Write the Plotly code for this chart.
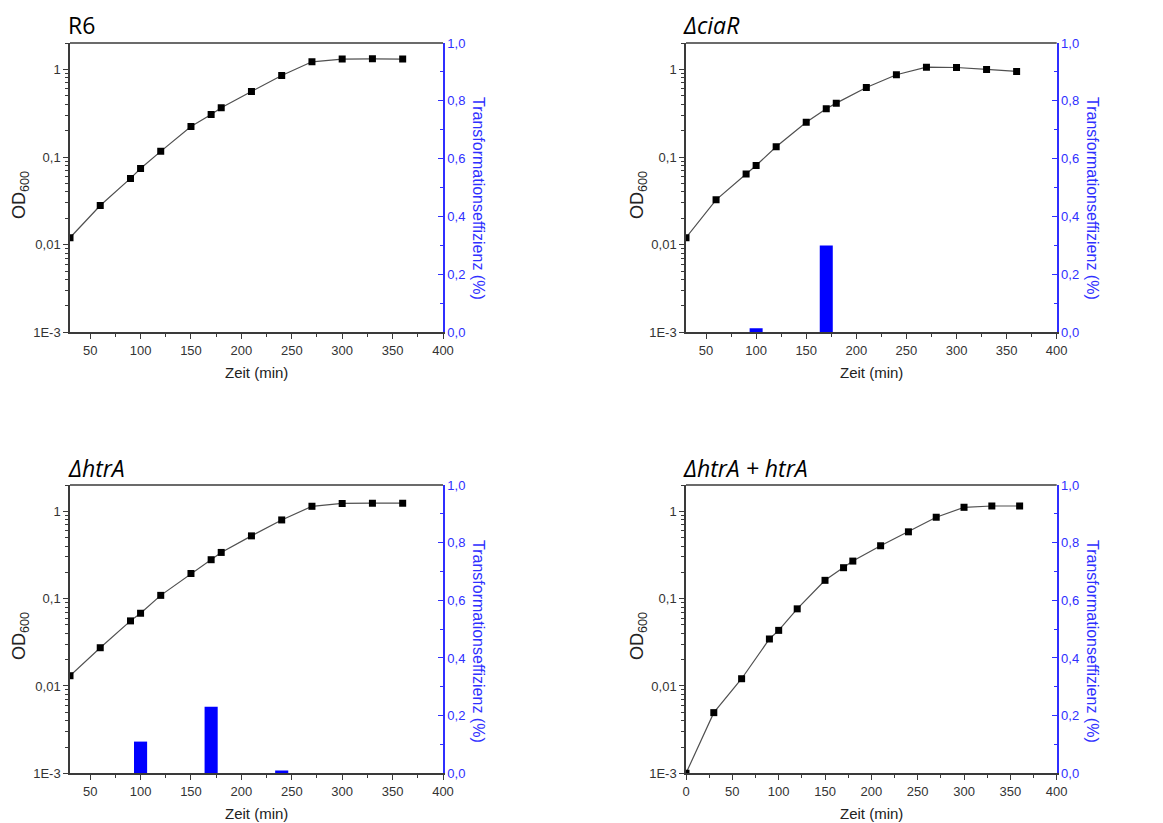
import plotly.graph_objects as go

# ---------------- data ----------------
times = [30, 60, 90, 100, 120, 150, 170, 180, 210, 240, 270, 300, 330, 360]
od_r6 = [0.012, 0.028, 0.057, 0.074, 0.116, 0.223, 0.305, 0.365, 0.56, 0.85, 1.22, 1.31, 1.32, 1.31]
od_ciar = [0.012, 0.0325, 0.064, 0.080, 0.131, 0.249, 0.355, 0.412, 0.622, 0.869, 1.06, 1.05, 1.0, 0.948]
od_htra = [0.0131, 0.0274, 0.0556, 0.068, 0.109, 0.194, 0.279, 0.338, 0.523, 0.796, 1.14, 1.23, 1.24, 1.24]
times_comp = [0, 30, 60, 90, 100, 120, 150, 170, 180, 210, 240, 270, 300, 330, 360]
od_comp = [0.001, 0.00495, 0.0121, 0.0345, 0.0433, 0.0764, 0.162, 0.226, 0.269, 0.403, 0.582, 0.855, 1.11, 1.15, 1.15]

bar_x_ciar = [100, 170]
bar_y_ciar = [0.014, 0.30]
bar_x_htra = [100, 170, 240]
bar_y_htra = [0.11, 0.231, 0.01]

titles = ["R6", "<i>ΔciaR</i>", "<i>ΔhtrA</i>", "<i>ΔhtrA + htrA</i>"]
od_ticks = [0.001, 0.01, 0.1, 1]
od_ticktext = ["1E-3", "0,01", "0,1", "1"]
od_minor = [m * 10 ** e for e in (-3, -2, -1) for m in range(2, 10)] + [2]
eff_ticks = [0, 0.2, 0.4, 0.6, 0.8, 1.0]
eff_ticktext = ["0,0", "0,2", "0,4", "0,6", "0,8", "1,0"]
eff_minor = [0.1, 0.3, 0.5, 0.7, 0.9]
x_label = "Zeit (min)"
od_label = "OD<sub>600</sub>"
eff_label = "Transformationseffizienz (%)"

# ---------------- layout helpers ----------------
W, H = 1163, 823
fx = lambda x: x / W
fy = lambda y: 1 - y / H

AX = "#3a3a3a"
BLUE = "#2f2fff"
TICKFONT = dict(family="Liberation Sans, Arial", size=13, color="#333333")

panels = [
    dict(t=times, od=od_r6, bx=[], by=[], xr=[30, 400], xt=[50, 100, 150, 200, 250, 300, 350, 400],
         box=(70, 443, 43, 332.3), title_xy=(66, 25), od_xy=(20, 195), eff_xy=(479, 198), zeit_y=372),
    dict(t=times, od=od_ciar, bx=bar_x_ciar, by=bar_y_ciar, xr=[30, 400], xt=[50, 100, 150, 200, 250, 300, 350, 400],
         box=(686, 1056.7, 43, 332.3), title_xy=(681, 25), od_xy=(638, 195), eff_xy=(1093, 198), zeit_y=372),
    dict(t=times, od=od_htra, bx=bar_x_htra, by=bar_y_htra, xr=[30, 400], xt=[50, 100, 150, 200, 250, 300, 350, 400],
         box=(70, 443, 485, 773.3), title_xy=(66, 468), od_xy=(20, 636), eff_xy=(479, 641), zeit_y=813),
    dict(t=times_comp, od=od_comp, bx=[], by=[], xr=[0, 400], xt=[0, 50, 100, 150, 200, 250, 300, 350, 400],
         box=(686, 1056.7, 485, 773.3), title_xy=(681, 468), od_xy=(638, 636), eff_xy=(1093, 641), zeit_y=813),
]

fig = go.Figure()
layout = dict(
    template="none",
    width=W, height=H, autosize=False, margin=dict(l=0, r=0, t=0, b=0, pad=0),
    paper_bgcolor="white", plot_bgcolor="rgba(0,0,0,0)", showlegend=False,
    font=dict(family="Liberation Sans, Arial", color="#222222"),
    annotations=[], shapes=[],
)


def sx(n):
    return "" if n == 1 else str(n)


for i, p in enumerate(panels):
    xa = i + 1                       # x axis of the panel
    ya, yb, yc = 3 * i + 1, 3 * i + 2, 3 * i + 3   # log OD / efficiency / log minor ticks
    x0, x1, y0, y1 = p["box"]
    xdom = [fx(x0), fx(x1)]
    ydom = [fy(y1), fy(y0)]
    xminor = [v + 25 for v in range(0, 400, 50) if p["xr"][0] < v + 25 < p["xr"][1]]

    if p["bx"]:
        fig.add_trace(go.Bar(
            x=p["bx"], y=p["by"], width=13, marker=dict(color="#0000ff", line=dict(width=0)),
            xaxis="x" + sx(xa), yaxis="y" + sx(yb),
        ))
    fig.add_trace(go.Scatter(
        x=p["t"], y=p["od"], mode="lines+markers",
        line=dict(color="#505050", width=1.2),
        marker=dict(symbol="square", size=7, color="black"),
        xaxis="x" + sx(xa), yaxis="y" + sx(ya),
    ))
    # invisible helper traces so that the extra axes (minor ticks, right axis) are drawn
    fig.add_trace(go.Scatter(x=[p["xr"][1]], y=[0.5], mode="markers", marker=dict(opacity=0),
                             hoverinfo="skip", xaxis="x" + sx(xa), yaxis="y" + sx(yb)))
    fig.add_trace(go.Scatter(x=[p["xr"][1]], y=[1], mode="markers", marker=dict(opacity=0),
                             hoverinfo="skip", xaxis="x" + sx(xa), yaxis="y" + sx(yc)))

    layout["xaxis" + sx(xa)] = dict(
        domain=xdom, anchor="y" + sx(ya), range=p["xr"], automargin=False,
        showline=True, linecolor=AX, linewidth=1.5, showgrid=False, zeroline=False,
        tickmode="array", tickvals=p["xt"], ticks="outside", ticklen=5, tickwidth=1.3, tickcolor=AX,
        tickfont=TICKFONT,
        minor=dict(tickmode="array", tickvals=xminor, ticks="outside", ticklen=3, tickwidth=1.2, tickcolor=AX, showgrid=False),
    )
    layout["yaxis" + sx(ya)] = dict(
        domain=ydom, anchor="x" + sx(xa), type="log", range=[-3, 0.301], automargin=False,
        showline=True, linecolor=AX, linewidth=1.5, showgrid=False, zeroline=False,
        tickmode="array", tickvals=od_ticks, ticktext=od_ticktext,
        ticks="outside", ticklen=5, tickwidth=1.3, tickcolor=AX, tickfont=TICKFONT,
        minor=dict(tickmode="array", tickvals=od_minor, ticks="outside", ticklen=3, tickwidth=1.1, tickcolor=AX, showgrid=False),
    )
    layout["yaxis" + sx(yc)] = dict(
        domain=ydom, anchor="x" + sx(xa), side="left", type="log", range=[-3, 0.301], automargin=False,
        showline=False, showgrid=False, zeroline=False,
        tickmode="array", tickvals=od_minor, ticks="outside", ticklen=3, tickwidth=1.1, tickcolor=AX,
        showticklabels=False,
    )
    layout["yaxis" + sx(yb)] = dict(
        overlaying="y" + sx(ya), anchor="x" + sx(xa), side="right", range=[0, 1.0], automargin=False,
        showline=True, linecolor=BLUE, linewidth=1.5, showgrid=False, zeroline=False,
        tickmode="array", tickvals=eff_ticks, ticktext=eff_ticktext,
        ticks="inside", ticklen=5, tickwidth=1.3, tickcolor=BLUE,
        tickfont=dict(family="Liberation Sans, Arial", size=13, color=BLUE),
        minor=dict(tickmode="array", tickvals=eff_minor, ticks="inside", ticklen=3, tickwidth=1.2, tickcolor=BLUE, showgrid=False),
    )

    # top frame line of the panel
    layout["shapes"].append(dict(
        type="line", xref="paper", yref="paper",
        x0=xdom[0], x1=xdom[1], y0=ydom[1], y1=ydom[1],
        line=dict(color=AX, width=1.5), layer="above",
    ))

    tx, ty = p["title_xy"]
    layout["annotations"].append(dict(
        text=titles[i], xref="paper", yref="paper", x=fx(tx), y=fy(ty), xanchor="left", yanchor="middle",
        showarrow=False, font=dict(family="Open Sans", size=23, color="black"),
    ))
    layout["annotations"].append(dict(
        text=x_label, xref="paper", yref="paper", x=fx((x0 + x1) / 2), y=fy(p["zeit_y"]),
        xanchor="center", yanchor="middle", showarrow=False,
        font=dict(family="Liberation Sans, Arial", size=15, color="#222222"),
    ))
    ox, oy = p["od_xy"]
    layout["annotations"].append(dict(
        text=od_label, xref="paper", yref="paper", x=fx(ox), y=fy(oy), textangle=-90,
        xanchor="center", yanchor="middle", showarrow=False,
        font=dict(family="Liberation Sans, Arial", size=18, color="#222222"),
    ))
    ex, ey = p["eff_xy"]
    layout["annotations"].append(dict(
        text=eff_label, xref="paper", yref="paper", x=fx(ex), y=fy(ey), textangle=90,
        xanchor="center", yanchor="middle", showarrow=False,
        font=dict(family="Liberation Sans, Arial", size=16, color=BLUE),
    ))

fig.update_layout(**layout)
fig.write_html("out.html")
